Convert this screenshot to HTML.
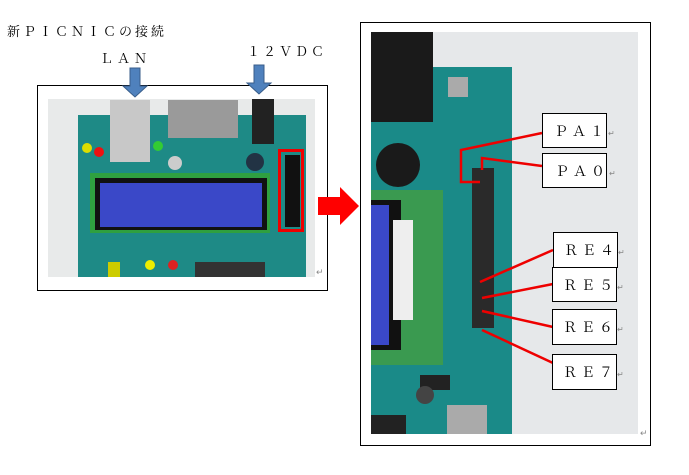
<!DOCTYPE html>
<html><head><meta charset="utf-8"><style>
body{margin:0;background:#fff;width:689px;height:475px;overflow:hidden;font-family:"Liberation Serif","Noto Serif CJK SC",serif}
</style></head><body>
<svg width="689" height="475" xmlns="http://www.w3.org/2000/svg" style="position:absolute;left:0;top:0">
<text x="7" y="36" font-size="13" font-family="Liberation Serif, Noto Serif CJK SC, serif" letter-spacing="3">新ＰＩＣＮＩＣの接続</text>
<text x="100" y="63" font-size="13" letter-spacing="4" font-family="Liberation Serif, Noto Serif CJK SC, serif">ＬＡＮ</text>
<text x="247" y="56" font-size="13" letter-spacing="3" font-family="Liberation Serif, Noto Serif CJK SC, serif">１２ＶＤＣ</text>
<!-- left frame -->
<rect x="37.5" y="85.5" width="290" height="205" fill="#fff" stroke="#000"/>
<rect x="48" y="99" width="267" height="178" fill="#e8eaea"/>
<rect x="78" y="115" width="228" height="162" fill="#1e8a86"/>
<rect x="110" y="100" width="40" height="62" fill="#c8c8c8"/>
<rect x="168" y="100" width="70" height="38" fill="#9a9a9a"/>
<rect x="252" y="99" width="22" height="45" fill="#222"/>
<circle cx="87" cy="148" r="5" fill="#dd0"/><circle cx="99" cy="152" r="5" fill="#e11"/>
<circle cx="158" cy="146" r="5" fill="#3c3"/>
<circle cx="255" cy="162" r="9" fill="#234"/><circle cx="175" cy="163" r="7" fill="#ccc"/>
<rect x="90" y="173" width="180" height="60" fill="#2fa040"/>
<rect x="95" y="178" width="172" height="52" fill="#111"/>
<rect x="100" y="183" width="162" height="44" fill="#3a48c8"/>
<rect x="285" y="155" width="15" height="72" fill="#111"/>
<rect x="279.5" y="150.5" width="23" height="80" fill="none" stroke="#e00" stroke-width="3"/>
<rect x="195" y="262" width="70" height="15" fill="#333"/>
<circle cx="150" cy="265" r="5" fill="#ee0"/><circle cx="173" cy="265" r="5" fill="#d22"/>
<rect x="108" y="262" width="12" height="15" fill="#cc0"/>
<text x="316" y="275" font-size="9" fill="#888">↵</text>
<!-- blue arrows -->
<path d="M130 68h10v18h7l-12 11-12-11h7z" fill="#4f81bd" stroke="#385d8a"/>
<path d="M254 65h10v18h7l-12 11-12-11h7z" fill="#4f81bd" stroke="#385d8a"/>
<!-- red arrow -->
<path d="M318 197h22v-10l19 19-19 19v-10h-22z" fill="#f00"/>
<!-- right frame -->
<rect x="360.5" y="22.5" width="290" height="423" fill="#fff" stroke="#000"/>
<rect x="371" y="32" width="267" height="402" fill="#e6e8ea"/>
<path d="M371 67H512V434H371z" fill="#1a8a88"/>
<rect x="371" y="32" width="62" height="90" fill="#1a1a1a"/>
<circle cx="398" cy="165" r="22" fill="#1a1a1a"/>
<rect x="371" y="190" width="72" height="175" fill="#3a9a50"/>
<rect x="371" y="200" width="30" height="150" fill="#111"/>
<rect x="371" y="205" width="18" height="140" fill="#3a48c8"/>
<rect x="393" y="220" width="20" height="100" fill="#eee"/>
<rect x="472" y="168" width="22" height="160" fill="#2a2a2a"/>
<rect x="448" y="77" width="20" height="20" fill="#aaa"/>
<rect x="420" y="375" width="30" height="15" fill="#222"/>
<circle cx="425" cy="395" r="9" fill="#444"/>
<rect x="447" y="405" width="40" height="29" fill="#aaa"/>
<rect x="371" y="415" width="35" height="19" fill="#222"/>
<text x="640" y="436" font-size="9" fill="#888">↵</text>
<!-- red lines -->
<g stroke="#e00" stroke-width="2.5" fill="none">
<path d="M542 133L461 150V182H480"/>
<path d="M542 166L482 158V170"/>
<path d="M553 250L480 282"/>
<path d="M553 284L482 298"/>
<path d="M553 327L482 311"/>
<path d="M553 363L482 330"/>
</g>
<g fill="#fff" stroke="#000">
<rect x="542.5" y="113.5" width="64" height="34"/>
<rect x="542.5" y="153.5" width="64" height="34"/>
<rect x="553.5" y="232.5" width="64" height="35"/>
<rect x="552.5" y="267.5" width="64" height="34"/>
<rect x="552.5" y="309.5" width="64" height="35"/>
<rect x="552.5" y="354.5" width="64" height="35"/>
</g>
<g font-size="14" letter-spacing="4" font-family="Liberation Serif, Noto Serif CJK SC, serif">
<text x="554" y="136">ＰＡ１<tspan font-size="8" fill="#888">↵</tspan></text>
<text x="555" y="176">ＰＡ０<tspan font-size="8" fill="#888">↵</tspan></text>
<text x="564" y="255">ＲＥ４<tspan font-size="8" fill="#888">↵</tspan></text>
<text x="563" y="290">ＲＥ５<tspan font-size="8" fill="#888">↵</tspan></text>
<text x="563" y="332">ＲＥ６<tspan font-size="8" fill="#888">↵</tspan></text>
<text x="563" y="377">ＲＥ７<tspan font-size="8" fill="#888">↵</tspan></text>
</g>
</svg>
</body></html>
